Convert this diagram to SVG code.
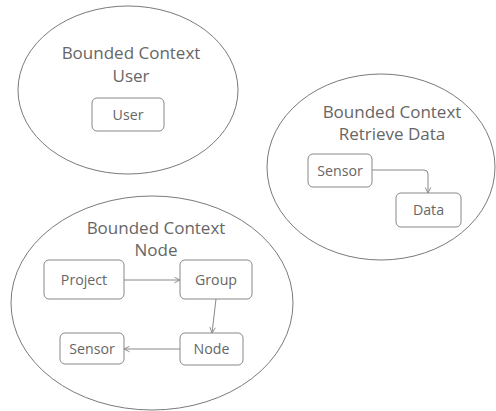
<svg xmlns="http://www.w3.org/2000/svg" width="496" height="411" viewBox="0 0 496 411">
<defs>
<style>
.ctx{fill:#fff;stroke:#7a7a7a;stroke-width:1}
.box{fill:#fff;stroke:#888;stroke-width:1}
.t{font-family:"Open Sans","Noto Sans",sans-serif;fill:#666;text-anchor:middle}
.title{font-size:17px}
.lbl{font-size:14.2px}
.c{fill:none;stroke:#888;stroke-width:1;marker-end:url(#arr)}
</style>
<marker id="arr" viewBox="0 0 10 10" refX="9" refY="5" markerWidth="7" markerHeight="7" orient="auto" markerUnits="userSpaceOnUse">
<path d="M1,1 L9,5 L1,9" fill="none" stroke="#888" stroke-width="1.3"/>
</marker>
</defs>
<rect width="496" height="411" fill="#fff"/>
<g id="ctx-user">
<ellipse class="ctx" cx="128" cy="90" rx="110" ry="84"/>
<text class="t title" x="131" y="59">Bounded Context</text>
<text class="t title" x="131" y="82">User</text>
</g>
<g id="ctx-retrieve">
<ellipse class="ctx" cx="381" cy="167" rx="114" ry="93"/>
<text class="t title" x="392" y="118">Bounded Context</text>
<text class="t title" x="392" y="140">Retrieve Data</text>
</g>
<g id="ctx-node">
<ellipse class="ctx" cx="152" cy="303" rx="141" ry="107"/>
<text class="t title" x="156" y="234">Bounded Context</text>
<text class="t title" x="156" y="256">Node</text>
</g>
<g id="user">
<rect class="box" x="92" y="98" width="72" height="33" rx="5"/>
<text class="t lbl" x="128" y="120">User</text>
</g>
<g id="sensor-rd">
<rect class="box" x="308" y="154" width="64" height="33" rx="5"/>
<text class="t lbl" x="340" y="176">Sensor</text>
</g>
<g id="data">
<rect class="box" x="396" y="193" width="65" height="34" rx="5"/>
<text class="t lbl" x="428.5" y="215">Data</text>
</g>
<g id="project">
<rect class="box" x="44" y="260" width="80" height="39" rx="5"/>
<text class="t lbl" x="84" y="285">Project</text>
</g>
<g id="group">
<rect class="box" x="180" y="260" width="72" height="39" rx="5"/>
<text class="t lbl" x="216" y="285">Group</text>
</g>
<g id="node">
<rect class="box" x="180" y="333" width="63" height="32" rx="5"/>
<text class="t lbl" x="211.5" y="354">Node</text>
</g>
<g id="sensor-node">
<rect class="box" x="60" y="333" width="64" height="31" rx="5"/>
<text class="t lbl" x="92" y="354">Sensor</text>
</g>
<g id="connectors">
<path class="c" d="M372,170 H424 Q428,170 428,174 V193"/>
<path class="c" d="M124,280 H180"/>
<path class="c" d="M216,299 L212,333"/>
<path class="c" d="M180,349 H124"/>
</g>
</svg>
